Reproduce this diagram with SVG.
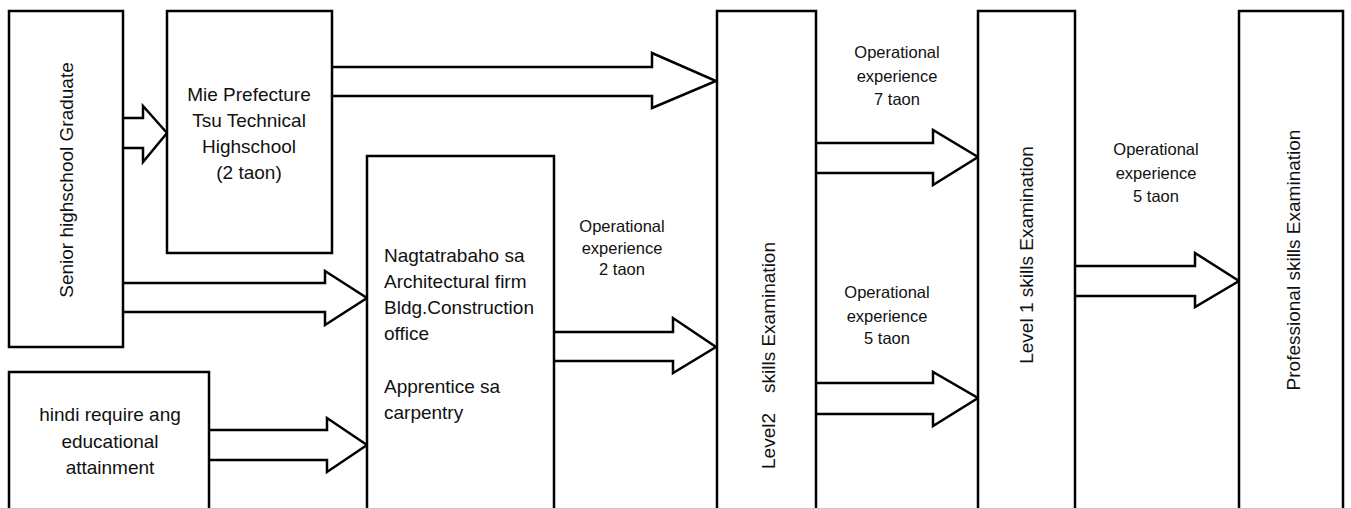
<svg xmlns="http://www.w3.org/2000/svg" width="1351" height="509" viewBox="0 0 1351 509">
<style>
.box{fill:#fff;stroke:#000;stroke-width:2.5}
.arr{fill:#fff;stroke:#000;stroke-width:2.5;stroke-linejoin:miter}
.t{font-family:"Liberation Sans",Arial,sans-serif;font-size:19px;fill:#111}
.l{font-family:"Liberation Sans",Arial,sans-serif;font-size:16.5px;fill:#111;text-anchor:middle}
.c{text-anchor:middle}
</style>
<rect width="1351" height="509" fill="#fff"/>
<g id="connectors">
<polyline class="arr" points="123,118 143,118 143,106 167,133 143,162 143,148 123,148"/>
<polyline class="arr" points="332,67 652,67 652,53 716,81 652,108 652,96 332,96"/>
<polyline class="arr" points="123,283 325,283 325,271 367,298 325,325 325,312 123,312"/>
<polyline class="arr" points="209,430 327,430 327,418 367,445 327,472 327,460 209,460"/>
<polyline class="arr" points="554,332 673,332 673,318 716,347 673,373 673,361 554,361"/>
<polyline class="arr" points="816,143 933,143 933,130 978,157 933,185 933,173 816,173"/>
<polyline class="arr" points="816,383 933,383 933,372 978,398 933,426 933,414 816,414"/>
<polyline class="arr" points="1075,266 1195,266 1195,253 1239,281 1195,307 1195,296 1075,296"/>
<text class="l"><tspan x="622" y="232">Operational</tspan><tspan x="622" y="254">experience</tspan><tspan x="622" y="275">2 taon</tspan></text>
<text class="l"><tspan x="897" y="58">Operational</tspan><tspan x="897" y="82">experience</tspan><tspan x="897" y="105">7 taon</tspan></text>
<text class="l"><tspan x="887" y="298">Operational</tspan><tspan x="887" y="322">experience</tspan><tspan x="887" y="344">5 taon</tspan></text>
<text class="l"><tspan x="1156" y="155">Operational</tspan><tspan x="1156" y="179">experience</tspan><tspan x="1156" y="202">5 taon</tspan></text>
</g>
<g id="senior">
<rect class="box" x="9" y="11" width="114" height="336"/>
<text class="t c" transform="translate(73,180) rotate(-90)">Senior highschool Graduate</text>
</g>
<g id="mie">
<rect class="box" x="167" y="11" width="165" height="242"/>
<text class="t c"><tspan x="249" y="101">Mie Prefecture</tspan><tspan x="249" y="127">Tsu Technical</tspan><tspan x="249" y="153">Highschool</tspan><tspan x="249" y="179">(2 taon)</tspan></text>
</g>
<g id="hindi">
<rect class="box" x="9" y="372" width="200" height="150"/>
<text class="t c"><tspan x="110" y="421">hindi require ang</tspan><tspan x="110" y="448">educational</tspan><tspan x="110" y="474">attainment</tspan></text>
</g>
<g id="work">
<rect class="box" x="367" y="156" width="187" height="366"/>
<text class="t"><tspan x="384" y="262">Nagtatrabaho sa</tspan><tspan x="384" y="288">Architectural firm</tspan><tspan x="384" y="314">Bldg.Construction</tspan><tspan x="384" y="340">office</tspan><tspan x="384" y="393">Apprentice sa</tspan><tspan x="384" y="419">carpentry</tspan></text>
</g>
<g id="level2">
<rect class="box" x="717" y="11" width="99" height="511"/>
<text class="t" transform="translate(775,469) rotate(-90)">Level2</text>
<text class="t" transform="translate(775,242) rotate(-90)" text-anchor="end">skills Examination</text>
</g>
<g id="level1">
<rect class="box" x="978" y="11" width="97" height="511"/>
<text class="t c" transform="translate(1033,255) rotate(-90)">Level 1 skills Examination</text>
</g>
<g id="professional">
<rect class="box" x="1239" y="11" width="104" height="511"/>
<text class="t c" transform="translate(1300,260) rotate(-90)">Professional skills Examination</text>
</g>
<line x1="0" y1="508.5" x2="1351" y2="508.5" stroke="#c8c8c8" stroke-width="1"/>
</svg>
